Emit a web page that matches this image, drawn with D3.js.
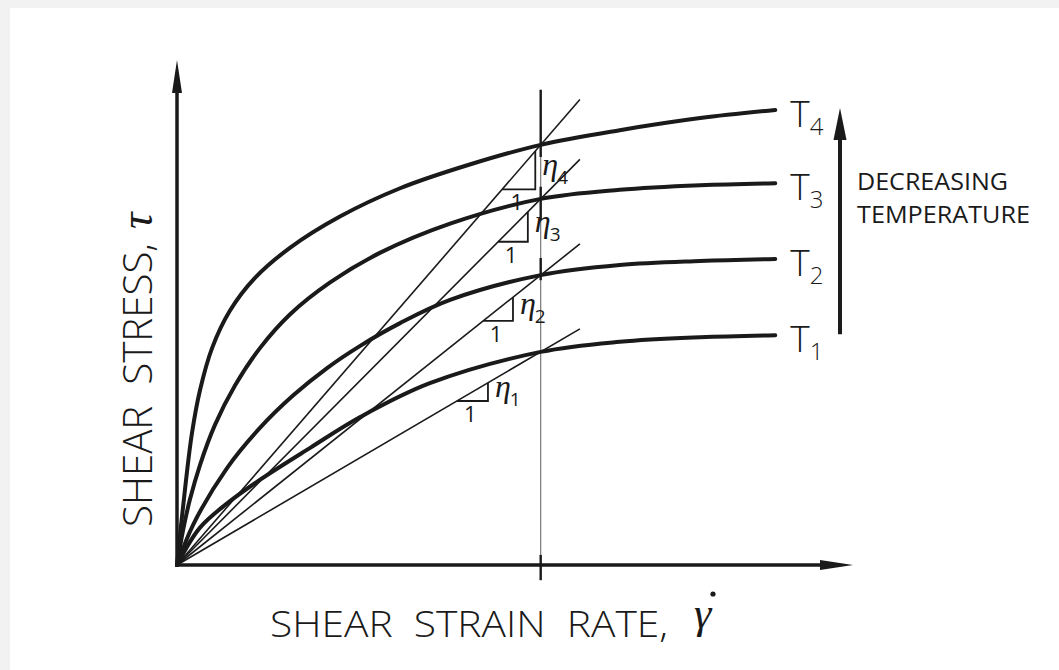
<!DOCTYPE html>
<html>
<head>
<meta charset="utf-8">
<script src="https://cdn.jsdelivr.net/npm/d3@7"></script>
<style>
  html, body { margin: 0; padding: 0; background: #f2f2f2; }
  svg { display: block; }
</style>
</head>
<body>
<div id="chart"></div>
<script>
const width = 1059;
const height = 670;

// curves (gamma-dot, tau) in 0..100 units
const curveNames = ["1", "2", "3", "4"];
const gammaT1 = [0, 3.4, 7.8, 12.3, 19.7, 27.1, 37.4, 53.8, 65.5, 77.4, 88.5];
const tauT1   = [0, 7.4, 12.6, 16.9, 23.2, 29.3, 36.0, 42.2, 44.2, 45.1, 45.5];
const gammaT2 = [0, 2.4, 7.4, 12.3, 17.2, 22.2, 27.1, 33.0, 40.4, 53.8, 65.5, 77.4, 88.5];
const tauT2   = [0, 8.0, 19.2, 27.2, 33.6, 39.0, 43.4, 47.9, 52.5, 57.4, 59.4, 60.2, 60.6];
const gammaT3 = [0, 0.9, 1.9, 3.4, 5.6, 8.6, 12.3, 16.7, 22.6, 30.0, 40.4, 53.8, 65.5, 77.4, 88.5];
const tauT3   = [0, 6.9, 12.9, 19.8, 27.7, 35.6, 43.0, 49.6, 55.9, 61.8, 67.6, 72.5, 74.3, 75.2, 75.6];
const gammaT4 = [0, 0.6, 1.3, 2.2, 3.4, 5.2, 7.8, 11.5, 16.7, 24.1, 33.0, 43.3, 53.8, 65.5, 77.4, 88.5];
const tauT4   = [0, 7.9, 16.4, 26.0, 34.6, 43.0, 50.3, 56.8, 62.8, 69.0, 74.6, 79.3, 83.2, 86.1, 88.5, 90.1];

// secant lines through the origin and the reference strain rate
const gammaRef = 53.8;
const tauRef = [42.2, 57.4, 72.5, 83.2];
const gammaLineEnd = 59.6;
const triStart = [41.4, 45.3, 47.5, 48.1];
const triEnd   = [46.0, 49.7, 51.9, 53.0];
// heavier pieces of the reference line
const refLineSpan = [-3, 94.1];
const refHeavy = [[80.8, 94.1], [68.3, 74.9], [56.4, 60.8], [-3, 2]];

const arrowSpan = [45.5, 90.5];

const gammas = [gammaT1, gammaT2, gammaT3, gammaT4];
const taus = [tauT1, tauT2, tauT3, tauT4];

const x = d3.scaleLinear().domain([0, 100]).range([177, 853]);
const y = d3.scaleLinear().domain([0, 100]).range([565, 60]);

const svg = d3.select("#chart")
    .append("svg")
    .attr("width", width)
    .attr("height", height);

svg.append("rect")
    .attr("x", 10).attr("y", 8)
    .attr("width", width - 10).attr("height", height - 8)
    .attr("fill", "#ffffff");

const ink = "#1a1a1a";
const labelFont = "'Open Sans', 'DejaVu Sans', sans-serif";
const greekFont = "'Liberation Serif', 'DejaVu Serif', serif";

// reference strain-rate line
svg.append("line")
    .attr("x1", x(gammaRef)).attr("x2", x(gammaRef))
    .attr("y1", y(refLineSpan[0])).attr("y2", y(refLineSpan[1]))
    .attr("stroke", "#777").attr("stroke-width", 1.2);

svg.selectAll(".ref-heavy")
    .data(refHeavy)
    .enter().append("line")
    .attr("class", "ref-heavy")
    .attr("x1", x(gammaRef)).attr("x2", x(gammaRef))
    .attr("y1", d => y(d[0])).attr("y2", d => y(d[1]))
    .attr("stroke", ink).attr("stroke-width", 2.4);

// secant lines
svg.selectAll(".secant")
    .data(tauRef)
    .enter().append("line")
    .attr("class", "secant")
    .attr("x1", x(0)).attr("y1", y(0))
    .attr("x2", x(gammaLineEnd))
    .attr("y2", d => y(d / gammaRef * gammaLineEnd))
    .attr("stroke", ink).attr("stroke-width", 1.6);

// slope triangles
const tri = tauRef.map((t, i) => {
    const s = t / gammaRef;
    return { i, x0: triStart[i], x1: triEnd[i], yLow: s * triStart[i], yHigh: s * triEnd[i] };
});

svg.selectAll(".tri")
    .data(tri)
    .enter().append("path")
    .attr("class", "tri")
    .attr("d", d => `M${x(d.x0)},${y(d.yLow)}H${x(d.x1)}V${y(d.yHigh)}`)
    .attr("fill", "none")
    .attr("stroke", ink).attr("stroke-width", 1.8);

svg.selectAll(".one")
    .data(tri)
    .enter().append("text")
    .attr("class", "one")
    .attr("x", d => (x(d.x0) + x(d.x1)) / 2 - 2)
    .attr("y", d => y(d.yLow) + 21)
    .attr("text-anchor", "middle")
    .attr("font-family", labelFont)
    .attr("font-size", 22)
    .attr("fill", ink)
    .text("1");

const eta = svg.selectAll(".eta")
    .data(tri)
    .enter().append("text")
    .attr("class", "eta")
    .attr("x", d => x(d.x1) + 7)
    .attr("y", d => (y(d.yLow) + y(d.yHigh)) / 2 + 5)
    .attr("font-family", greekFont)
    .attr("font-style", "italic")
    .attr("font-size", 32)
    .attr("fill", ink);
eta.append("tspan").text("η");
eta.append("tspan")
    .attr("dx", -1)
    .attr("dy", 9)
    .attr("font-style", "normal")
    .attr("font-family", labelFont)
    .attr("font-size", 19)
    .text((d, i) => curveNames[i]);

// flow curves
const line = d3.line()
    .x(d => x(d[0]))
    .y(d => y(d[1]))
    .curve(d3.curveCatmullRom.alpha(0.5));

svg.selectAll(".flow")
    .data(gammas.map((g, i) => g.map((v, j) => [v, taus[i][j]])))
    .enter().append("path")
    .attr("class", "flow")
    .attr("d", line)
    .attr("fill", "none")
    .attr("stroke", ink)
    .attr("stroke-width", 4)
    .attr("stroke-linecap", "round");

// curve labels
const tLabel = svg.selectAll(".tlabel")
    .data(gammas.map((g, i) => ({ g: g[g.length - 1], t: taus[i][taus[i].length - 1], name: curveNames[i] })))
    .enter().append("text")
    .attr("class", "tlabel")
    .attr("x", d => x(d.g) + 15)
    .attr("y", d => y(d.t) + 17)
    .attr("font-family", labelFont)
    .attr("font-weight", 300)
    .attr("font-size", 37)
    .attr("fill", ink);
tLabel.append("tspan").text("T");
tLabel.append("tspan")
    .attr("dx", 0)
    .attr("dy", 8)
    .attr("font-size", 24)
    .text(d => d.name);

// axes
const x0 = x(0), y0 = y(0);
svg.append("line")
    .attr("x1", x0).attr("y1", y0 + 1.5)
    .attr("x2", x0).attr("y2", y(100) + 20)
    .attr("stroke", ink).attr("stroke-width", 3.5);
svg.append("path")
    .attr("d", `M${x0},${y(100)}L${x0 + 5},${y(100) + 33}L${x0 - 5},${y(100) + 33}Z`)
    .attr("fill", ink);

svg.append("line")
    .attr("x1", x0 - 1.5).attr("y1", y0)
    .attr("x2", x(100) - 20).attr("y2", y0)
    .attr("stroke", ink).attr("stroke-width", 3.5);
svg.append("path")
    .attr("d", `M${x(100)},${y0}L${x(100) - 33},${y0 - 5}L${x(100) - 33},${y0 + 5}Z`)
    .attr("fill", ink);

// axis titles
svg.append("text")
    .attr("x", 270).attr("y", 637)
    .attr("font-family", labelFont)
    .attr("font-weight", 300)
    .attr("font-size", 37)
    .attr("fill", ink)
    .attr("textLength", 398)
    .attr("lengthAdjust", "spacingAndGlyphs")
    .style("white-space", "pre")
    .text("SHEAR  STRAIN  RATE,");
svg.append("text")
    .attr("x", 694).attr("y", 628)
    .attr("font-family", greekFont)
    .attr("font-style", "italic")
    .attr("font-size", 44)
    .attr("fill", ink)
    .text("γ");
svg.append("circle")
    .attr("cx", 713).attr("cy", 594).attr("r", 2.6)
    .attr("fill", ink);

const yTitle = svg.append("g")
    .attr("transform", "translate(152,527) rotate(-90)");
yTitle.append("text")
    .attr("x", 0).attr("y", 0)
    .attr("font-family", labelFont)
    .attr("font-weight", 300)
    .attr("font-size", 40)
    .attr("fill", ink)
    .attr("textLength", 284)
    .attr("lengthAdjust", "spacingAndGlyphs")
    .style("white-space", "pre")
    .text("SHEAR  STRESS,");
yTitle.append("text")
    .attr("x", 298).attr("y", 0)
    .attr("font-family", greekFont)
    .attr("font-style", "italic")
    .attr("font-size", 46)
    .attr("fill", ink)
    .text("τ");

// decreasing temperature arrow
const ax = 840;
svg.append("line")
    .attr("x1", ax).attr("x2", ax)
    .attr("y1", y(arrowSpan[0]) - 1).attr("y2", y(arrowSpan[1]) + 25)
    .attr("stroke", ink).attr("stroke-width", 4);
svg.append("path")
    .attr("d", `M${ax},${y(arrowSpan[1])}L${ax + 6.5},${y(arrowSpan[1]) + 32}L${ax - 6.5},${y(arrowSpan[1]) + 32}Z`)
    .attr("fill", ink);

svg.append("text")
    .attr("x", 857).attr("y", 190)
    .attr("font-family", labelFont)
    .attr("font-size", 24)
    .attr("fill", ink)
    .attr("textLength", 151)
    .attr("lengthAdjust", "spacingAndGlyphs")
    .text("DECREASING");
svg.append("text")
    .attr("x", 857).attr("y", 223)
    .attr("font-family", labelFont)
    .attr("font-size", 24)
    .attr("fill", ink)
    .attr("textLength", 173)
    .attr("lengthAdjust", "spacingAndGlyphs")
    .text("TEMPERATURE");
</script>
</body>
</html>
